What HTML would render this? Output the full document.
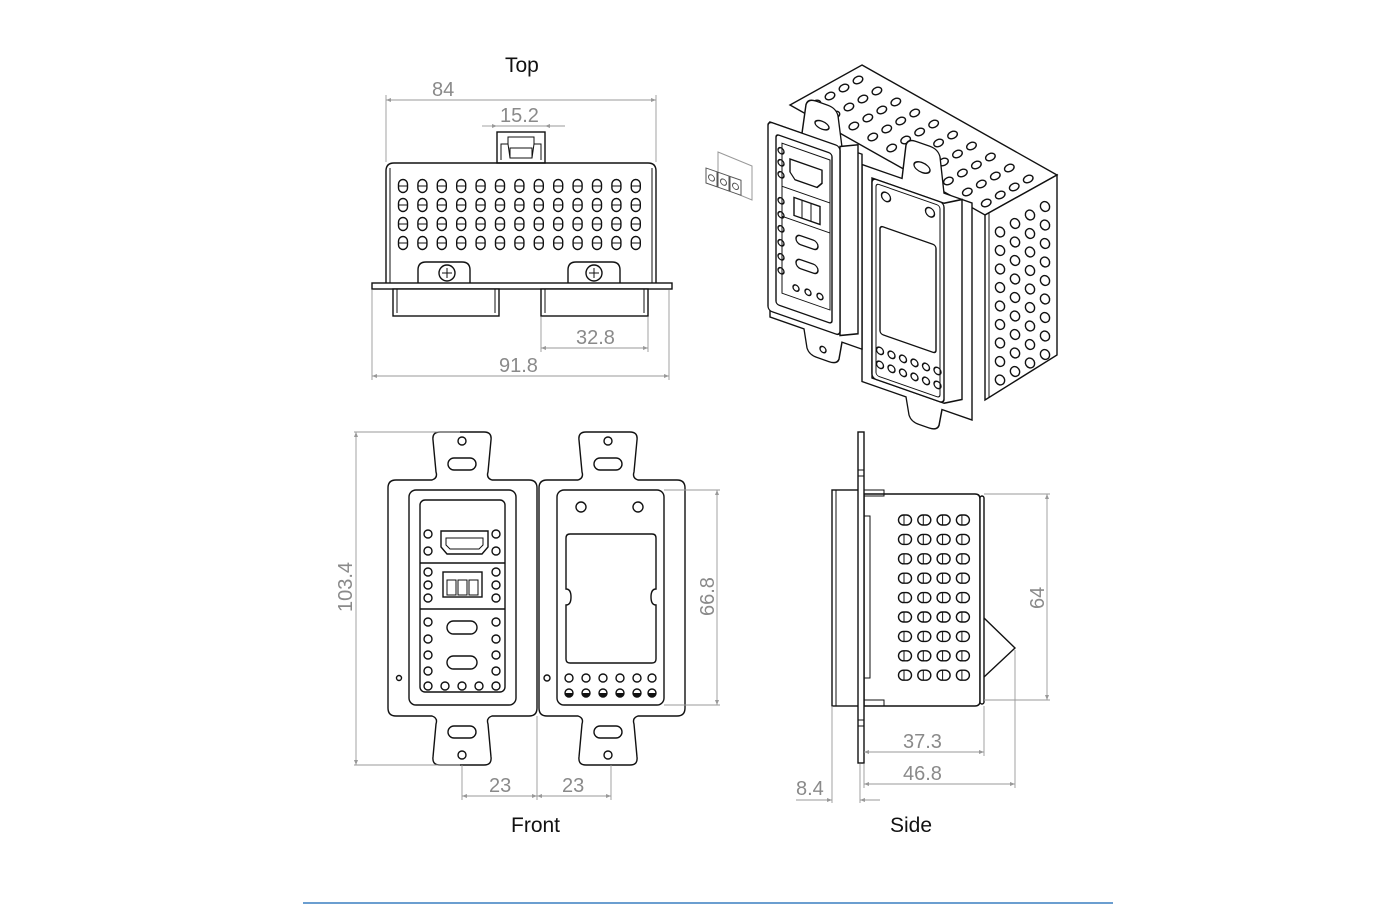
<!DOCTYPE html>
<html><head><meta charset="utf-8"><style>
html,body{margin:0;padding:0;background:#fff;}
svg{display:block;}
.k{fill:none;stroke:#111;stroke-width:1.4;}
.kw{fill:#fff;stroke:#111;stroke-width:1.4;}
.t{fill:none;stroke:#111;stroke-width:1;}
.d{fill:none;stroke:#999;stroke-width:0.9;}
.txt{font-family:"Liberation Sans",sans-serif;font-size:20px;fill:#8a8a8a;}
.ttl{font-family:"Liberation Sans",sans-serif;font-size:21px;fill:#111;}
</style></head><body>
<svg id="s" width="1400" height="906" viewBox="0 0 1400 906" xmlns="http://www.w3.org/2000/svg">
<defs>
<marker id="a" viewBox="0 0 10 10" refX="10" refY="5" markerWidth="9" markerHeight="5" orient="auto-start-reverse" markerUnits="userSpaceOnUse"><path d="M0,1 L10,5 L0,9z" fill="#999"/></marker>
</defs>

<!-- ===== TOP VIEW ===== -->
<text class="ttl" x="505" y="72">Top</text>
<path class="k" d="M386,283 V171 Q386,163 394,163 H648 Q656,163 656,171 V283"/>
<line class="t" x1="390" y1="168" x2="390" y2="283"/><line class="t" x1="652" y1="168" x2="652" y2="283"/>
<rect class="k" x="497" y="132" width="48" height="31"/>
<path class="t" d="M501,160 V144 H508 V137 H534 V144 H541 V160 M510,148 H532 V158 H510z M508,144 L510,158 M534,144 L532,158"/>
<g id="topholes"></g>
<path class="kw" d="M418,283 V270 Q418,262 426,262 H462 Q470,262 470,270 V283"/>
<path class="kw" d="M568,283 V270 Q568,262 576,262 H612 Q620,262 620,270 V283"/>
<circle class="k" cx="447" cy="273" r="8"/><path class="t" d="M442,273h10M447,268v10"/>
<circle class="k" cx="594" cy="273" r="8"/><path class="t" d="M589,273h10M594,268v10"/>
<rect class="kw" x="372" y="283" width="300" height="6"/>
<rect class="kw" x="393" y="289" width="106" height="27"/><line class="t" x1="397" y1="289" x2="397" y2="313"/><line class="t" x1="495" y1="289" x2="495" y2="313"/>
<rect class="kw" x="541" y="289" width="107" height="27"/><line class="t" x1="545" y1="289" x2="545" y2="313"/><line class="t" x1="644" y1="289" x2="644" y2="313"/>
<!-- dims -->
<path class="d" d="M386,95V162M656,95V162"/>
<line class="d" x1="386" y1="100" x2="656" y2="100" marker-start="url(#a)" marker-end="url(#a)"/>
<text class="txt" x="432" y="96">84</text>
<line class="d" x1="482" y1="126" x2="497" y2="126" marker-end="url(#a)"/>
<line class="d" x1="497" y1="126" x2="545" y2="126"/>
<line class="d" x1="565" y1="126" x2="545" y2="126" marker-end="url(#a)"/>
<text class="txt" x="500" y="122">15.2</text>
<path class="d" d="M541,317V352M648,317V352"/>
<line class="d" x1="541" y1="348" x2="648" y2="348" marker-start="url(#a)" marker-end="url(#a)"/>
<text class="txt" x="576" y="344">32.8</text>
<path class="d" d="M372,290V380M669,290V380"/>
<line class="d" x1="372" y1="376" x2="669" y2="376" marker-start="url(#a)" marker-end="url(#a)"/>
<text class="txt" x="499" y="372">91.8</text>

<!-- ===== FRONT VIEW ===== -->
<text class="ttl" x="511" y="832">Front</text>
<g id="plateL"></g>
<g id="plateR"></g>
<rect class="k" x="409" y="490" width="107" height="215" rx="7"/>
<rect class="k" x="420" y="500" width="85" height="192" rx="5"/>
<path class="k" d="M420,563H505M420,609H505"/>
<path class="k" d="M441,531H488V547L482,554H447L441,547z"/><path class="t" d="M446,538H483V545L479,549H450L446,545z"/>
<rect class="k" x="443" y="572" width="39" height="25"/><rect class="t" x="447" y="580" width="9" height="15"/><rect class="t" x="458" y="580" width="9" height="15"/><rect class="t" x="469" y="580" width="9" height="15"/>
<rect class="k" x="447" y="621" width="30" height="13" rx="6.5" stroke-width="2.5"/>
<rect class="k" x="447" y="656" width="30" height="13" rx="6.5" stroke-width="2.5"/>
<g id="lcirc"></g>
<circle class="k" cx="399" cy="678" r="2.5"/>
<rect class="k" x="557" y="490" width="107" height="215" rx="7"/>
<circle class="k" cx="581" cy="507" r="5"/><circle class="k" cx="638" cy="507" r="5"/>
<path class="k" d="M570,534H652Q656,534 656,538V589Q651,589 651,597Q651,605 656,605V659Q656,663 652,663H570Q566,663 566,659V605Q571,605 571,597Q571,589 566,589V538Q566,534 570,534z"/>
<circle class="k" cx="547" cy="678" r="3"/>
<g id="rcirc"></g>
<path class="d" d="M354,432H460M354,765H460"/>
<line class="d" x1="356" y1="432" x2="356" y2="765" marker-start="url(#a)" marker-end="url(#a)"/>
<text class="txt" transform="translate(352,612) rotate(-90)">103.4</text>
<path class="d" d="M664,490H720M664,705H720"/>
<line class="d" x1="717" y1="490" x2="717" y2="705" marker-start="url(#a)" marker-end="url(#a)"/>
<text class="txt" transform="translate(714,616) rotate(-90)">66.8</text>
<path class="d" d="M462,765V800M537,716V800M611,765V800"/>
<line class="d" x1="462" y1="796" x2="537" y2="796" marker-start="url(#a)" marker-end="url(#a)"/>
<line class="d" x1="537" y1="796" x2="611" y2="796" marker-start="url(#a)" marker-end="url(#a)"/>
<text class="txt" x="489" y="792">23</text><text class="txt" x="562" y="792">23</text>

<!-- ===== SIDE VIEW ===== -->
<text class="ttl" x="890" y="832">Side</text>
<rect class="kw" x="832" y="490" width="28" height="216"/>
<line class="t" x1="836" y1="490" x2="836" y2="706"/>
<path class="kw" d="M864,494H975Q980,494 980,499V701Q980,706 975,706H864z"/>
<rect class="kw" x="980" y="496" width="4" height="208" rx="2"/>
<rect class="t" x="864" y="516" width="6" height="162"/>
<path class="t" d="M860,490H884V496H860M860,700H884V706H860"/>
<path class="k" d="M984,618L1015,648L984,677"/>
<rect class="kw" x="858" y="432" width="6" height="331"/>
<path class="t" d="M858,470h6M858,476h6M858,720h6M858,726h6"/>
<g id="sideholes"></g>
<path class="d" d="M984,494H1050M984,700H1050"/>
<line class="d" x1="1047" y1="494" x2="1047" y2="700" marker-start="url(#a)" marker-end="url(#a)"/>
<text class="txt" transform="translate(1044,609) rotate(-90)">64</text>
<path class="d" d="M984,706V756M1015,650V788M864,764V788M832,706V803M860,764V803"/>
<line class="d" x1="864" y1="752" x2="984" y2="752" marker-start="url(#a)" marker-end="url(#a)"/>
<text class="txt" x="903" y="748">37.3</text>
<line class="d" x1="864" y1="784" x2="1015" y2="784" marker-start="url(#a)" marker-end="url(#a)"/>
<text class="txt" x="903" y="780">46.8</text>
<line class="d" x1="796" y1="800" x2="832" y2="800" marker-end="url(#a)"/>
<line class="d" x1="880" y1="800" x2="860" y2="800" marker-end="url(#a)"/>
<text class="txt" x="796" y="795">8.4</text>

<!-- ===== ISO VIEW ===== -->
<g id="iso">
<polygon class="kw" points="862,65 1057,175 985,215 790,105"/>
<polygon class="kw" points="985,215 1057,175 1057,355 985,400"/>
<line class="t" x1="989" y1="213" x2="989" y2="398"/>
<g id="isoholes"></g>
<g transform="translate(872,178) matrix(1,0.35,0,1,0,0)">
<path class="kw" d="M-10,-10H30L34,-45Q36,-52 44,-52H58Q66,-52 68,-45L72,-10H100V207H70L67,224Q65,230 57,230H47Q39,230 37,224L34,207H-10z"/>
<ellipse class="k" cx="50" cy="-28" rx="8" ry="5"/>
<path class="kw" d="M0,0H72L90,-10V190L72,200H0z"/>
<rect class="kw" x="0" y="0" width="72" height="200" rx="4"/>
<rect class="t" x="4" y="4" width="64" height="192" rx="3"/>
<circle class="k" cx="14" cy="14" r="4.5"/><circle class="k" cx="58" cy="14" r="4.5"/>
<rect class="k" x="8" y="45" width="56" height="108" rx="3"/>
<g id="isorc"></g>
</g>
<g transform="translate(770,97) matrix(1,0.35,0,1,0,0)">
<path class="kw" d="M0,25H32L36,-5Q38,-12 46,-12H58Q66,-12 68,-5L72,25H92V220H72L69,238Q67,244 59,244H47Q39,244 37,238L34,220H0z"/>
<ellipse class="k" cx="52" cy="10" rx="7" ry="4"/>
<circle class="k" cx="53" cy="234" r="3"/>
<path class="kw" d="M70,25L88,17V206L70,214z"/>
<rect class="kw" x="-2" y="25" width="72" height="189" rx="4" stroke-width="1.8"/>
<rect class="k" x="6" y="35" width="56" height="170" rx="3"/>
<rect class="t" x="12" y="42" width="48" height="150"/>
<path class="t" d="M12,85H60M12,115H60"/>
<path class="k" d="M20,55H52V68L47,74H25L20,68z"/>
<rect class="k" x="24" y="92" width="26" height="18"/><path class="t" d="M32,92V110M41,92V110"/>
<rect class="k" x="26" y="128" width="22" height="9" rx="4.5" stroke-width="2"/>
<rect class="k" x="26" y="152" width="22" height="9" rx="4.5" stroke-width="2"/>
<g id="isolc"></g>
</g>
<g stroke="#555" stroke-width="1" fill="#fff">
<path d="M718,152L752,166V200L718,186z" fill="#fff" stroke="#999"/>
<g transform="translate(706,168) matrix(1,0.35,0,1,0,0)">
<rect x="0" y="0" width="11" height="15"/><circle cx="5.5" cy="8" r="3"/>
<rect x="12" y="0" width="11" height="15"/><circle cx="17.5" cy="8" r="3"/>
<rect x="24" y="0" width="11" height="15"/><circle cx="29.5" cy="8" r="3"/>
</g>
</g>
</g>

<line x1="303" y1="903" x2="1113" y2="903" stroke="#3a7fc1" stroke-width="1.5"/>
</svg>
<script>
var NS="http://www.w3.org/2000/svg";
function el(p,t,a){var e=document.createElementNS(NS,t);for(var k in a)e.setAttribute(k,a[k]);document.getElementById(p).appendChild(e);return e;}
for(var i=0;i<13;i++)for(var j=0;j<4;j++){var x=403+i*19.4,y=186+j*19;
el("topholes","rect",{x:x-4.5,y:y-6.5,width:9,height:13,rx:4.5,"class":"k"});
el("topholes","line",{x1:x-4.5,y1:y,x2:x+4.5,y2:y,"class":"t"});}
function plate(id,cx,x0,x1){
var d="M"+x0+",488Q"+x0+",480 "+(x0+8)+",480H"+(cx-30)+"Q"+(cx-24)+",478 "+(cx-26)+",472L"+(cx-29)+",440Q"+(cx-30)+",432 "+(cx-22)+",432H"+(cx+22)+"Q"+(cx+30)+",432 "+(cx+29)+",440L"+(cx+26)+",472Q"+(cx+24)+",478 "+(cx+30)+",480H"+(x1-8)+"Q"+x1+",480 "+x1+",488V708Q"+x1+",716 "+(x1-8)+",716H"+(cx+30)+"Q"+(cx+24)+",718 "+(cx+26)+",724L"+(cx+29)+",757Q"+(cx+30)+",765 "+(cx+22)+",765H"+(cx-22)+"Q"+(cx-30)+",765 "+(cx-29)+",757L"+(cx-26)+",724Q"+(cx-24)+",718 "+(cx-30)+",716H"+(x0+8)+"Q"+x0+",716 "+x0+",708z";
el(id,"path",{d:d,"class":"kw"});
el(id,"circle",{cx:cx,cy:441,r:4,"class":"k"});
el(id,"rect",{x:cx-14,y:458,width:28,height:12,rx:6,"class":"k"});
el(id,"rect",{x:cx-14,y:726,width:28,height:12,rx:6,"class":"k"});
el(id,"circle",{cx:cx,cy:755,r:4,"class":"k"});}
plate("plateL",462,388,537);plate("plateR",608,539,685);
var ly=[534,551,572,585,598,622,639,655,671,686];
ly.forEach(function(y){el("lcirc","circle",{cx:428,cy:y,r:4,"class":"k"});el("lcirc","circle",{cx:496,cy:y,r:4,"class":"k"});});
[445,462,479].forEach(function(x){el("lcirc","circle",{cx:x,cy:686,r:4,"class":"k"});});
[569,586,603,620,637,652].forEach(function(x){el("rcirc","circle",{cx:x,cy:678,r:4,"class":"k"});
el("rcirc","circle",{cx:x,cy:693,r:4,"class":"k"});el("rcirc","path",{d:"M"+(x-4)+",693A4,4 0 0 0 "+(x+4)+",693z",fill:"#111"});});
for(var i=0;i<4;i++)for(var j=0;j<9;j++){var x=905+i*19.3,y=520+j*19.4;
el("sideholes","rect",{x:x-6.5,y:y-5,width:13,height:10,rx:5,"class":"k"});
el("sideholes","line",{x1:x-1,y1:y-5,x2:x-1,y2:y+5,"class":"t"});}
for(var i=0;i<10;i++)for(var j=0;j<4;j++){
var x=858+i*19.5*0.97-j*14,y=80+i*11+j*8;
el("isoholes","ellipse",{cx:x,cy:y,rx:5,ry:3.5,transform:"rotate(-25 "+x+" "+y+")","class":"k","stroke-width":"1.6"});}
for(var i=0;i<4;i++)for(var j=0;j<9;j++){var x=1000+i*15,y=232-i*8.5+j*18.5;
el("isoholes","ellipse",{cx:x,cy:y,rx:4.5,ry:5,transform:"rotate(-30 "+x+" "+y+")","class":"k","stroke-width":"1.6"});}
for(var j=0;j<6;j++){el("isorc","circle",{cx:8+j*11.5,cy:170,r:3.5,"class":"k"});el("isorc","circle",{cx:8+j*11.5,cy:184,r:3.5,"class":"k"});}
[50,62,74,100,114,128,142,156,170].forEach(function(y){el("isolc","circle",{cx:11,cy:y,r:3,"class":"k"});});
[26,38,50].forEach(function(x){el("isolc","circle",{cx:x,cy:182,r:3,"class":"k"});});
</script>
</body></html>
